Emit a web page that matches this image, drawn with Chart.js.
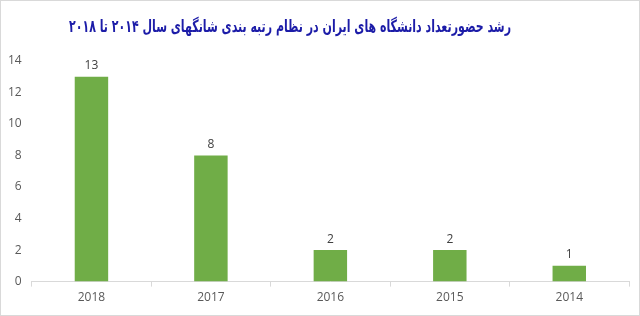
<!DOCTYPE html>
<html>
<head>
<meta charset="utf-8">
<script src="https://cdn.jsdelivr.net/npm/chart.js@4"></script>
<style>
  html, body { margin: 0; padding: 0; background: #fff; }
  #wrap { width: 638px; height: 314px; border: 1px solid #d9d9d9; position: relative; }
</style>
</head>
<body>
<div id="wrap"><canvas id="chart1"></canvas></div>
<script>
const years = ['2018', '2017', '2016', '2015', '2014'];
const universities = [13, 8, 2, 2, 1];
const yTicks = [0, 2, 4, 6, 8, 10, 12, 14];
const titleText = 'رشد حضورتعداد دانشگاه های ایران در نظام رتبه بندی شانگهای سال ۲۰۱۴ تا ۲۰۱۸';

// draws the value above each bar
const valueLabels = {
  id: 'valueLabels',
  afterDatasetsDraw(chart) {
    const ctx = chart.ctx;
    const meta = chart.getDatasetMeta(0);
    ctx.save();
    ctx.font = '12px "Open Sans", sans-serif';
    ctx.fillStyle = '#404040';
    ctx.textAlign = 'center';
    ctx.textBaseline = 'bottom';
    meta.data.forEach(function(bar, i) {
      ctx.fillText(universities[i], bar.x, bar.y - 5);
    });
    ctx.restore();
  }
};

// heavy, narrow title like the original
const narrowTitle = {
  id: 'narrowTitle',
  afterDraw(chart) {
    const ctx = chart.ctx;
    ctx.save();
    ctx.font = 'bold 17px "DejaVu Sans", sans-serif';
    ctx.fillStyle = '#1c1ca8';
    ctx.textAlign = 'center';
    ctx.textBaseline = 'middle';
    ctx.direction = 'rtl';
    const w = ctx.measureText(titleText).width;
    const sx = 442 / w;
    ctx.translate(289, 27);
    ctx.scale(sx, 1);
    ctx.fillText(titleText, 0, 0);
    ctx.restore();
  }
};

var ctx = document.getElementById('chart1').getContext('2d');

var chart1 = new Chart(ctx, {
  type: 'bar',
  data: {
    labels: years,
    datasets: [{
      label: 'Universities',
      data: universities,
      backgroundColor: '#70ad47',
      borderWidth: 0,
      categoryPercentage: 1,
      barPercentage: 0.28
    }]
  },
  options: {
    responsive: true,
    maintainAspectRatio: false,
    animation: false,
    layout: {
      padding: { left: 5, right: 10, top: 60, bottom: 6 }
    },
    plugins: {
      legend: { display: false },
      tooltip: { enabled: false },
      title: { display: false }
    },
    scales: {
      x: {
        grid: {
          offset: true,
          drawOnChartArea: false,
          drawTicks: true,
          tickLength: 5,
          color: '#d9d9d9'
        },
        border: { display: true, color: '#d9d9d9' },
        ticks: {
          color: '#595959',
          font: { family: 'Open Sans', size: 12 },
          padding: 4
        }
      },
      y: {
        min: 0,
        max: 14,
        afterBuildTicks: function(scale) {
          scale.ticks = yTicks.map(v => ({ value: v }));
        },
        grid: { display: false },
        border: { display: false },
        ticks: {
          color: '#595959',
          font: { family: 'Open Sans', size: 12 },
          padding: 2
        }
      }
    }
  },
  plugins: [valueLabels, narrowTitle]
});
</script>
</body>
</html>
